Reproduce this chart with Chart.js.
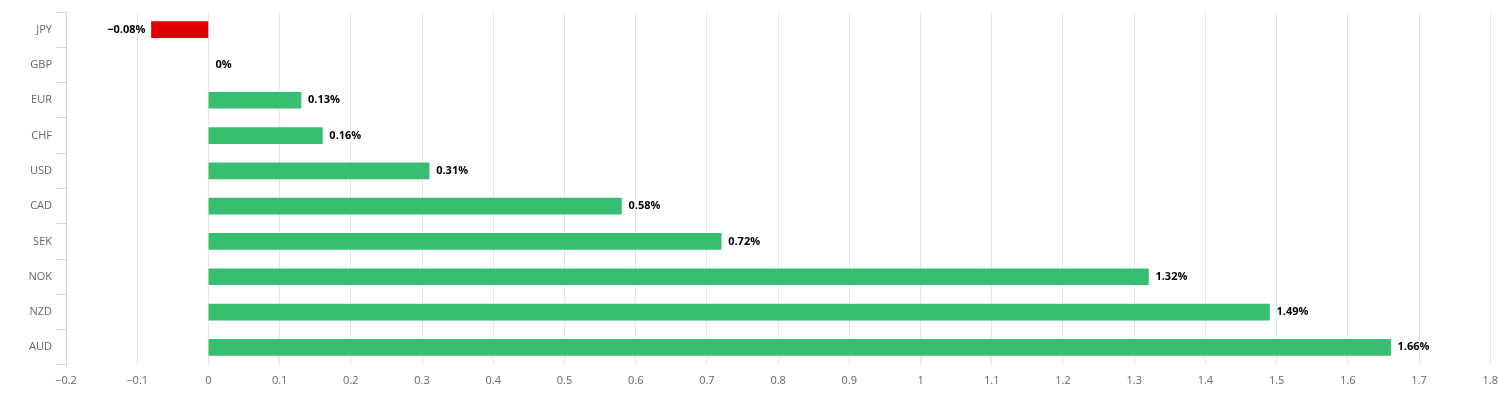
<!DOCTYPE html>
<html>
<head>
<meta charset="utf-8">
<script src="https://cdn.jsdelivr.net/npm/chart.js@4/dist/chart.umd.min.js"></script>
<style>
html,body{margin:0;padding:0;background:#fff;}
#wrap{width:1507px;height:419px;position:relative;}
</style>
</head>
<body>
<div id="wrap"><canvas id="c"></canvas></div>
<script>
const categories = ["JPY","GBP","EUR","CHF","USD","CAD","SEK","NOK","NZD","AUD"];
const values = [-0.08, 0, 0.13, 0.16, 0.31, 0.58, 0.72, 1.32, 1.49, 1.66];
const labels = ["\u22120.08%","0%","0.13%","0.16%","0.31%","0.58%","0.72%","1.32%","1.49%","1.66%"];
const xTickMin = -0.2, xTickMax = 1.8, xStep = 0.1;

const POS = "#36bf71", NEG = "#e00000";
const FONT = "'Open Sans', 'Liberation Sans', sans-serif";

const dataLabelPlugin = {
  id: 'dl',
  afterDatasetsDraw(chart) {
    const ctx = chart.ctx;
    const meta = chart.getDatasetMeta(0);
    ctx.save();
    ctx.font = "bold 11px " + FONT;
    ctx.textBaseline = 'middle';
    ctx.lineJoin = 'round';
    meta.data.forEach((bar, i) => {
      const v = values[i];
      const txt = labels[i];
      let x, align;
      if (v < 0) { x = bar.x - 6; align = 'right'; }
      else { x = bar.x + 7; align = 'left'; }
      ctx.textAlign = align;
      ctx.strokeStyle = '#fff';
      ctx.lineWidth = 2;
      ctx.strokeText(txt, x, bar.y);
      ctx.fillStyle = '#000';
      ctx.fillText(txt, x, bar.y);
    });
    ctx.restore();
  }
};

new Chart(document.getElementById('c'), {
  type: 'bar',
  data: {
    labels: categories,
    datasets: [{
      data: values,
      backgroundColor: values.map(v => v < 0 ? NEG : (v === 0 ? 'rgba(0,0,0,0)' : POS)),
      barThickness: 16,
      borderWidth: 0
    }]
  },
  options: {
    indexAxis: 'y',
    responsive: true,
    maintainAspectRatio: false,
    animation: false,
    layout: { padding: { left: 0, right: 11, top: 12, bottom: 24 } },
    plugins: { legend: { display: false }, tooltip: { enabled: false } },
    scales: {
      x: {
        type: 'linear',
        min: xTickMin, max: xTickMax,
        ticks: {
          stepSize: xStep,
          color: '#666',
          font: { family: FONT, size: 11 },
          padding: 9,
          callback: (v) => {
            const r = Math.round(v * 10) / 10;
            return r < 0 ? '\u2212' + Math.abs(r) : String(r);
          }
        },
        grid: { color: '#e6e6e6', drawTicks: false, lineWidth: 1 },
        border: { display: false },
        afterFit(s) { s.height = 30; }
      },
      y: {
        type: 'category',
        offset: true,
        ticks: {
          color: '#666',
          font: { family: FONT, size: 11 },
          padding: 4
        },
        grid: {
          offset: true,
          drawOnChartArea: false,
          drawTicks: true,
          tickLength: 10,
          color: '#ccd6eb'
        },
        border: { display: true, color: '#ccd6eb', width: 1 },
        afterFit(s) { s.width = 66; }
      }
    }
  },
  plugins: [dataLabelPlugin]
});
</script>
</body>
</html>
